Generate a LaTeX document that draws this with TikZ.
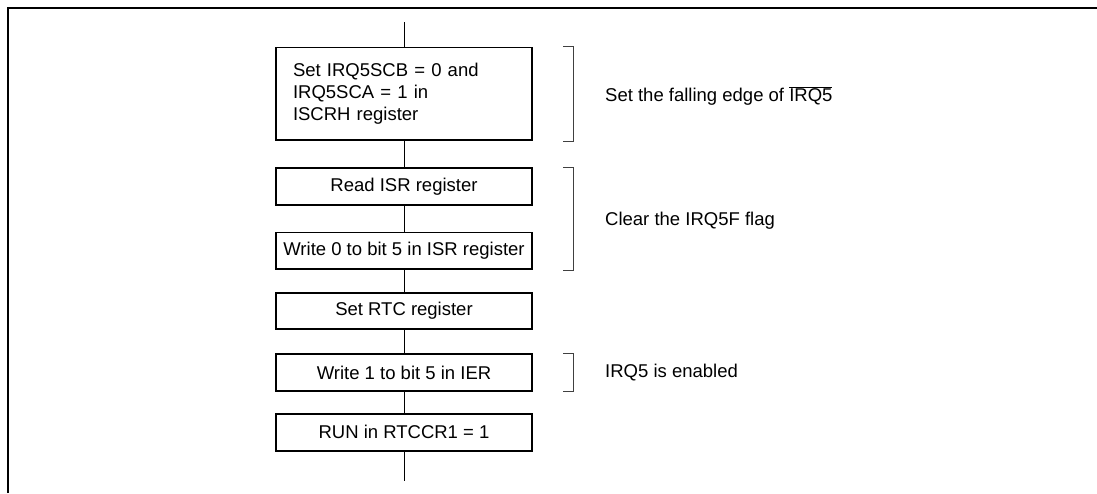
\documentclass[tikz,border=0pt]{standalone}
\usepackage{fontspec}
\setmainfont{Liberation Sans}
\usetikzlibrary{positioning,calc}

\begin{document}
\begin{tikzpicture}[
  x=1pt, y=1pt,
  font=\fontsize{18.5}{22}\selectfont,
  node distance=24pt,
  box/.style={draw, line width=1.8pt, align=center, minimum width=256.2pt, minimum height=36.7pt, inner sep=0pt},
  line/.style={line width=1pt},
  bracket/.style={line width=1pt, draw=black!75},
  note/.style={inner sep=0pt, anchor=west},
  frame/.style={line width=2pt}
]
\useasboundingbox (0,0) rectangle (1097,-493);

% outer frame (open at right and bottom)
\draw[frame] (7.7,-493) |- (1097,-7.7);

\node[box, minimum height=92.7pt, text width=222pt, align=left] (isc) at (404,-93.75)
  {Set IRQ5SCB = 0 and\\IRQ5SCA = 1 in\\ISCRH register};
\node[box, below=26pt of isc] (rd) {Read ISR register};
\node[box, below=26pt of rd] (wr0) {Write 0 to bit 5 in ISR register};
\node[box, below=21.7pt of wr0] (rtc) {Set RTC register};
\node[box, below=23pt of rtc] (ier) {Write 1 to bit 5 in IER};
\node[box, below=21.3pt of ier] (run) {RUN in RTCCR1 = 1};

\coordinate (start) at ($(isc.north)+(0,24.5)$);
\coordinate (stop) at ($(run.south)+(0,-29)$);

\draw[line] (start) -- (isc);
\draw[line] (isc) -- (rd);
\draw[line] (rd) -- (wr0);
\draw[line] (wr0) -- (rtc);
\draw[line] (rtc) -- (ier);
\draw[line] (ier) -- (run);
\draw[line] (run) -- (stop);

% brackets
\draw[bracket] ([xshift=30pt]isc.north east) -| ([xshift=40.5pt]isc.south east) -- ([xshift=30pt]isc.south east);
\draw[bracket] ([xshift=30pt]rd.north east) -| ([xshift=40.5pt]wr0.south east) -- ([xshift=30pt]wr0.south east);
\draw[bracket] ([xshift=30pt]ier.north east) -| ([xshift=40.5pt]ier.south east) -- ([xshift=30pt]ier.south east);

\coordinate (clrmid) at ($(rd.north east)!0.5!(wr0.south east)$);
\node[note, right=72pt of isc.east, yshift=-2pt] (edge) {Set the falling edge of $\overline{\mbox{IRQ5}}$};
\node[note, right=72pt of clrmid, yshift=-2pt] (clr) {Clear the IRQ5F flag};
\node[note, right=72pt of ier.east] (ena) {IRQ5 is enabled};

\end{tikzpicture}
\end{document}
